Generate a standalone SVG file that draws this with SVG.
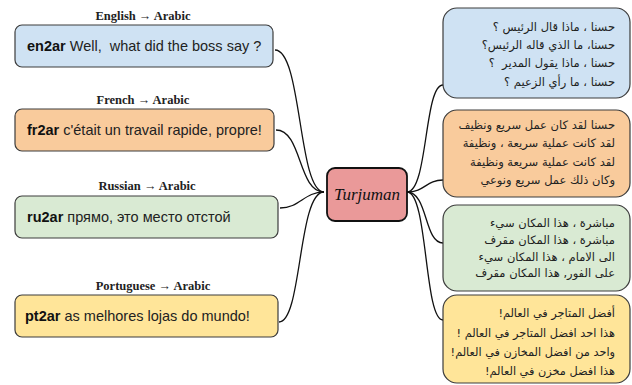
<svg xmlns="http://www.w3.org/2000/svg" width="632" height="385" viewBox="0 0 632 385">
<style>
.box{stroke:#3c3c3c;stroke-width:1.2}
.lbl{font-family:"Liberation Serif","DejaVu Serif",serif;font-weight:bold;font-size:12.5px;fill:#222;text-anchor:middle}
.src{font-family:"Liberation Sans",Arial,sans-serif;font-size:14.5px;fill:#222}
.src tspan.b{font-weight:bold;fill:#111}
.ar{font-family:"DejaVu Sans","Liberation Sans",sans-serif;font-size:11.5px;fill:#222;direction:rtl;text-anchor:start}
.ar4{font-size:11.3px}
.con{fill:none;stroke:#111;stroke-width:1.3}
</style>
<rect width="632" height="385" fill="#ffffff"/>
<g id="connectors">
<path class="con" d="M275,50 C302,50 298,192 324,192"/>
<path class="con" d="M276,130 C302,130 298,192 324,192"/>
<path class="con" d="M280,208 C300,208 304,192 324,192"/>
<path class="con" d="M279,322 C302,322 298,192 324,192"/>
<path class="con" d="M407,192 C428,192 424,85 443,85"/>
<path class="con" d="M407,192 C425,192 426,180 443,180"/>
<path class="con" d="M407,192 C428,192 424,243 443,243"/>
<path class="con" d="M407,192 C428,192 424,320 443,320"/>
</g>
<g id="en2ar">
<text class="lbl" x="143" y="20">English → Arabic</text>
<rect class="box" x="15" y="25" width="258" height="42" rx="7" fill="#cfe2f3"/>
<text class="src" x="27" y="51" xml:space="preserve"><tspan class="b">en2ar</tspan> Well,  what did the boss say ?</text>
</g>
<g id="fr2ar">
<text class="lbl" x="143" y="104">French → Arabic</text>
<rect class="box" x="15" y="109" width="259" height="42" rx="7" fill="#f9cb9c"/>
<text class="src" x="27" y="135" xml:space="preserve"><tspan class="b">fr2ar</tspan> c'était un travail rapide, propre!</text>
</g>
<g id="ru2ar">
<text class="lbl" x="147" y="190">Russian → Arabic</text>
<rect class="box" x="15" y="196" width="263" height="42" rx="7" fill="#d9ead3"/>
<text class="src" x="27" y="222" xml:space="preserve"><tspan class="b">ru2ar</tspan> прямо, это место отстой</text>
</g>
<g id="pt2ar">
<text class="lbl" x="153" y="290">Portuguese → Arabic</text>
<rect class="box" x="15" y="295" width="263" height="42" rx="7" fill="#ffe599"/>
<text class="src" x="25" y="321" xml:space="preserve"><tspan class="b">pt2ar</tspan> as melhores lojas do mundo!</text>
</g>
<g id="turjuman">
<rect x="327" y="168" width="80" height="53" rx="8" fill="#ea9999" stroke="#111" stroke-width="1.8"/>
<text x="367" y="200" font-family="Liberation Serif,serif" font-style="italic" font-size="17" fill="#111" text-anchor="middle">Turjuman</text>
</g>
<g id="ar-en">
<rect class="box" x="443" y="8" width="187" height="90" rx="14" fill="#cfe2f3"/>
<text class="ar" x="615" y="31">حسنا ، ماذا قال الرئيس ؟</text>
<text class="ar" x="615" y="49">حسنا، ما الذي قاله الرئيس؟</text>
<text class="ar" x="615" y="67" xml:space="preserve">حسنا ، ماذا يقول المدير  ؟</text>
<text class="ar" x="615" y="86">حسنا ، ما رأي الزعيم ؟</text>
</g>
<g id="ar-fr">
<rect class="box" x="443" y="110" width="187" height="87" rx="14" fill="#f9cb9c"/>
<text class="ar" x="615" y="129">حسنا لقد كان عمل سريع ونظيف</text>
<text class="ar" x="615" y="147">لقد كانت عملية سريعة ، ونظيفة</text>
<text class="ar" x="615" y="166">لقد كانت عملية سريعة ونظيفة</text>
<text class="ar" x="615" y="184">وكان ذلك عمل سريع ونوعي</text>
</g>
<g id="ar-ru">
<rect class="box" x="443" y="205" width="187" height="86" rx="14" fill="#d9ead3"/>
<text class="ar" x="615" y="227">مباشرة ، هذا المكان سيء</text>
<text class="ar" x="615" y="244">مباشرة ، هذا المكان مقرف</text>
<text class="ar" x="615" y="261">الى الامام ، هذا المكان سيء</text>
<text class="ar" x="615" y="277">على الفور, هذا المكان مقرف</text>
</g>
<g id="ar-pt">
<rect class="box" x="443" y="295" width="187" height="88" rx="14" fill="#ffe599"/>
<text class="ar ar4" x="615" y="317">أفضل المتاجر في العالم!</text>
<text class="ar ar4" x="615" y="337">هذا احد افضل المتاجر في العالم !</text>
<text class="ar ar4" x="615" y="356">واحد من افضل المخازن في العالم!</text>
<text class="ar ar4" x="615" y="375">هذا افضل مخزن في العالم!</text>
</g>
</svg>
